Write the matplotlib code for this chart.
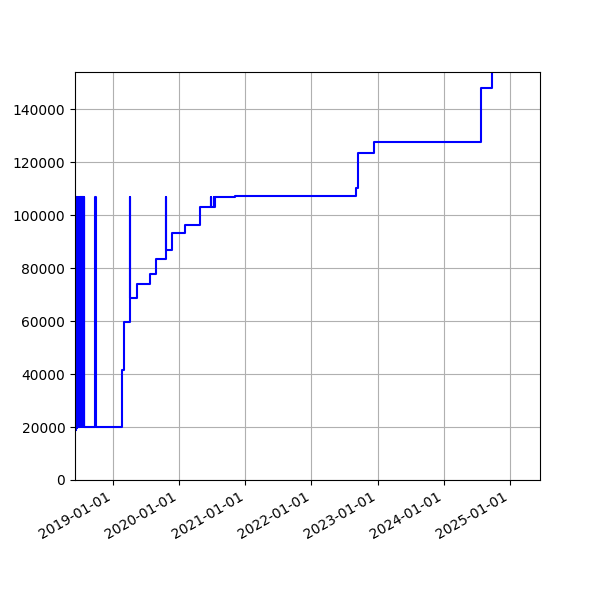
import pandas as pd
import matplotlib
matplotlib.use('Agg')
import matplotlib.pyplot as plt
import matplotlib.dates as mdates

# change dates and the value taken from that date on
dates = ['2018-06-10', '2018-06-12', '2018-06-14', '2018-06-16', '2018-06-18',
         '2018-06-20', '2018-06-23', '2018-06-25', '2018-06-28', '2018-06-30',
         '2018-07-03', '2018-07-05', '2018-07-08', '2018-07-10', '2018-07-13',
         '2018-07-15', '2018-07-18', '2018-07-20', '2018-07-23', '2018-07-25',
         '2018-07-27', '2018-07-28',
         '2018-09-26', '2018-09-27',
         '2019-02-21', '2019-03-04', '2019-04-06', '2019-04-07',
         '2019-05-15', '2019-07-25', '2019-08-27', '2019-10-19', '2019-10-20',
         '2019-11-22', '2020-02-03', '2020-04-26', '2020-06-25', '2020-06-27',
         '2020-07-10', '2020-07-12', '2020-07-18', '2020-11-06',
         '2022-09-05', '2022-09-15', '2022-12-10', '2023-05-10', '2024-07-23',
         '2024-09-26']
values = [19000, 107000, 19500, 107000, 20000,
          107000, 20000, 107000, 20000, 107000,
          20000, 107000, 20000, 107000, 20000,
          107000, 20000, 107000, 20000, 107000,
          20000, 20000,
          107000, 20000,
          41700, 59700, 107000, 68800,
          73800, 77600, 83400, 107000, 87000,
          93100, 96100, 102900, 107000, 102900,
          107000, 102900, 106700, 107300,
          110400, 123600, 127600, 127700, 147800,
          200000]

df = pd.DataFrame({'ts': pd.to_datetime(dates), 'v': values})

fig, ax = plt.subplots(figsize=(6, 6), dpi=100)
ax.plot(df['ts'], df['v'], color='b', drawstyle='steps-post')
ax.set_xlim(pd.Timestamp('2018-06-05'), pd.Timestamp('2025-06-16'))
ax.set_ylim(0, 154000)
ax.xaxis.set_major_locator(mdates.YearLocator())
ax.xaxis.set_major_formatter(mdates.DateFormatter('%Y-%m-%d'))
ax.grid(True)
fig.autofmt_xdate()
plt.savefig('out.png')
